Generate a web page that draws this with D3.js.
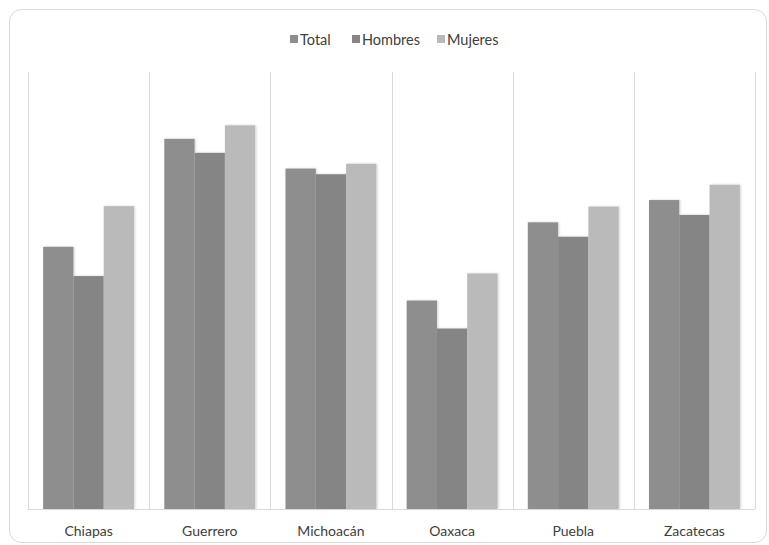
<!DOCTYPE html>
<html>
<head>
<meta charset="utf-8">
<script src="https://cdn.jsdelivr.net/npm/d3@7/dist/d3.min.js"></script>
<style>
  html, body { margin: 0; padding: 0; background: #fff; }
  svg { display: block; font-family: "Lato", "Open Sans", sans-serif; }
</style>
</head>
<body>
<svg id="chart" width="769" height="545"></svg>
<script>
// Data
const categories = ["Chiapas", "Guerrero", "Michoacán", "Oaxaca", "Puebla", "Zacatecas"];
const seriesNames = ["Total", "Hombres", "Mujeres"];
const totalValues   = [60.0, 84.7, 77.9, 47.7, 65.6, 70.7];
const hombresValues = [53.3, 81.5, 76.6, 41.3, 62.3, 67.3];
const mujeresValues = [69.3, 87.8, 79.0, 53.9, 69.2, 74.2];
const seriesColors  = ["#8e8e8e", "#858585", "#bababa"];

const seriesValues = [totalValues, hombresValues, mujeresValues];

const svg = d3.select("#chart");

// Shadow for bars
const defs = svg.append("defs");
const f = defs.append("filter").attr("id", "shadow")
  .attr("x", "-10%").attr("y", "-10%").attr("width", "130%").attr("height", "130%");
f.append("feDropShadow").attr("dx", 1).attr("dy", 0).attr("stdDeviation", 1)
  .attr("flood-color", "#000").attr("flood-opacity", 0.18);

// Chart frame
svg.append("rect")
  .attr("x", 9.5).attr("y", 9.5).attr("width", 757).attr("height", 533)
  .attr("rx", 12).attr("fill", "#fff").attr("stroke", "#d9d9d9").attr("stroke-width", 1);

const plot = { left: 28, right: 755, top: 72, bottom: 509 };

const x = d3.scaleBand().domain(categories).range([plot.left, plot.right]).padding(0);
const xs = d3.scaleBand().domain(seriesNames).range([0, x.bandwidth()])
  .paddingInner(0).paddingOuter(0.5);
const y = d3.scaleLinear().domain([0, 100]).range([plot.bottom, plot.top]);

// Vertical separators between categories
const bounds = categories.map(c => x(c)).concat([plot.right]);
svg.append("g").selectAll("line").data(bounds).join("line")
  .attr("x1", d => Math.round(d) + 0.5).attr("x2", d => Math.round(d) + 0.5)
  .attr("y1", plot.top).attr("y2", plot.bottom)
  .attr("stroke", "#d9d9d9").attr("stroke-width", 1);

// Bars
const rows = [];
categories.forEach((c, i) => {
  seriesNames.forEach((s, j) => rows.push({ c, s, j, v: seriesValues[j][i] }));
});
svg.append("g").attr("filter", "url(#shadow)")
  .selectAll("rect").data(rows).join("rect")
  .attr("x", d => x(d.c) + xs(d.s))
  .attr("width", xs.bandwidth())
  .attr("y", d => y(d.v))
  .attr("height", d => y(0) - y(d.v))
  .attr("fill", d => seriesColors[d.j]);

// Baseline
svg.append("line")
  .attr("x1", plot.left).attr("x2", plot.right)
  .attr("y1", plot.bottom + 0.5).attr("y2", plot.bottom + 0.5)
  .attr("stroke", "#d9d9d9");

// Category axis labels
const xAxis = d3.axisBottom(x).tickSize(0).tickPadding(0);
const gx = svg.append("g").attr("transform", `translate(0,${plot.bottom})`).call(xAxis);
gx.select(".domain").remove();
gx.selectAll("text")
  .attr("y", 0).attr("dy", 0)
  .attr("transform", "translate(0,27)")
  .attr("font-family", "Lato, 'Open Sans', sans-serif")
  .attr("font-size", 14).attr("fill", "#404040");

// Legend
const legendItems = [
  { name: "Total", x: 290 },
  { name: "Hombres", x: 352 },
  { name: "Mujeres", x: 437 }
];
const lg = svg.append("g");
legendItems.forEach((it, j) => {
  lg.append("rect").attr("x", it.x).attr("y", 35).attr("width", 8).attr("height", 8)
    .attr("fill", seriesColors[j]);
  lg.append("text").attr("x", it.x + 10).attr("y", 45)
    .attr("font-size", 14.5).attr("fill", "#404040").text(it.name);
});
</script>
</body>
</html>
